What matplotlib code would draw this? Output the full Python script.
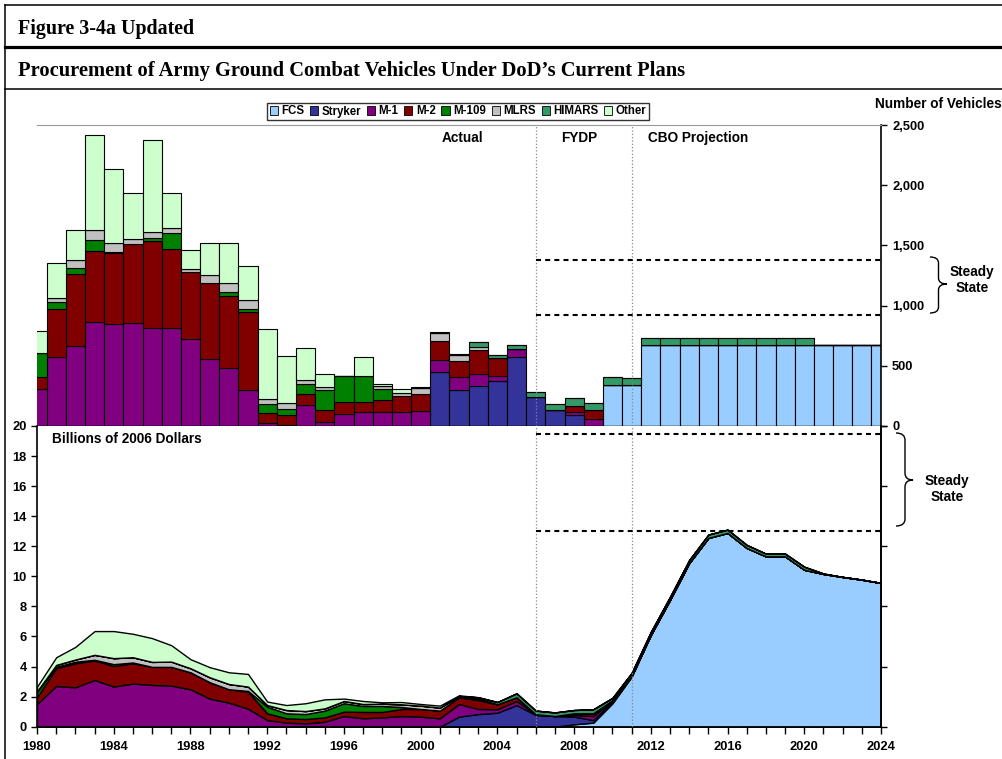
import matplotlib
matplotlib.use("Agg")
import matplotlib.pyplot as plt
import numpy as np
from matplotlib.patches import Patch, PathPatch
from matplotlib.path import Path
from matplotlib.ticker import FuncFormatter, MultipleLocator

# ---------------- data ----------------
years = list(range(1980, 2025))
series = ["FCS", "Stryker", "M-1", "M-2", "M-109", "MLRS", "HIMARS", "Other"]
colors = ["#99CCFF", "#333399", "#800080", "#800000", "#008000", "#C0C0C0", "#339966", "#CCFFCC"]

def pad(d):
    return [d.get(y, 0) for y in years]

# Number of vehicles
veh_fcs = pad({2010: 341, 2011: 341, **{y: 675 for y in range(2012, 2025)}})
veh_stryker = pad({2001: 446, 2002: 299, 2003: 332, 2004: 371, 2005: 576, 2006: 241, 2007: 133, 2008: 91})
veh_m1 = pad({1980: 307, 1981: 570, 1982: 667, 1983: 861, 1984: 845, 1985: 853, 1986: 811, 1987: 811,
              1988: 723, 1989: 553, 1990: 484, 1991: 299, 1992: 22, 1993: 5, 1994: 172, 1995: 33,
              1996: 102, 1997: 114, 1998: 114, 1999: 114, 2000: 127, 2001: 102, 2002: 108, 2003: 97,
              2004: 42, 2005: 61, 2008: 25, 2009: 55})
veh_m2 = pad({1980: 100, 1981: 399, 1982: 595, 1983: 595, 1984: 595, 1985: 659, 1986: 723, 1987: 657,
              1988: 553, 1989: 638, 1990: 593, 1991: 651, 1992: 89, 1993: 85, 1994: 91, 1995: 100,
              1996: 100, 1997: 88, 1998: 102, 1999: 135, 2000: 139, 2001: 161, 2002: 136, 2003: 202,
              2004: 149, 2008: 50, 2009: 78})
veh_m109 = pad({1980: 196, 1981: 58, 1982: 48, 1983: 89, 1984: 5, 1986: 30, 1987: 132, 1990: 39,
                1991: 25, 1992: 75, 1993: 55, 1994: 83, 1995: 166, 1996: 213, 1997: 213, 1998: 91})
veh_mlrs = pad({1981: 34, 1982: 69, 1983: 80, 1984: 77, 1985: 44, 1986: 45, 1987: 47, 1988: 25,
                1989: 63, 1990: 69, 1991: 69, 1992: 41, 1993: 50, 1994: 36, 1995: 28, 1998: 28,
                1999: 28, 2000: 47, 2001: 61, 2002: 47, 2003: 28})
veh_himars = pad({2003: 36, 2004: 28, 2005: 38, 2006: 39, 2007: 47, 2008: 64, 2009: 55, 2010: 63,
                  2011: 55, **{y: 53 for y in range(2012, 2021)}})
veh_other = pad({1980: 189, 1981: 290, 1982: 246, 1983: 792, 1984: 612, 1985: 382, 1986: 764,
                 1987: 291, 1988: 161, 1989: 269, 1990: 338, 1991: 282, 1992: 579, 1993: 390,
                 1994: 263, 1995: 105, 1997: 155, 1998: 10, 1999: 33, 2000: 14, 2001: 11, 2002: 5})

# Billions of 2006 dollars
cost_fcs = pad({2008: 0.16, 2009: 0.27, 2010: 1.56, 2011: 3.33, 2012: 6.11, 2013: 8.44, 2014: 10.89,
                2015: 12.56, 2016: 12.89, 2017: 11.89, 2018: 11.33, 2019: 11.33, 2020: 10.44,
                2021: 10.16, 2022: 9.96, 2023: 9.78, 2024: 9.56})
cost_stryker = pad({2002: 0.67, 2003: 0.84, 2004: 0.93, 2005: 1.44, 2006: 0.78, 2007: 0.71,
                    2008: 0.51, 2009: 0.17, 2010: 0.15, 2011: 0.05})
cost_m1 = pad({1980: 1.51, 1981: 2.71, 1982: 2.62, 1983: 3.11, 1984: 2.67, 1985: 2.87, 1986: 2.78,
               1987: 2.73, 1988: 2.49, 1989: 1.87, 1990: 1.60, 1991: 1.20, 1992: 0.44, 1993: 0.27,
               1994: 0.22, 1995: 0.33, 1996: 0.71, 1997: 0.56, 1998: 0.62, 1999: 0.71, 2000: 0.67,
               2001: 0.56, 2002: 0.84, 2003: 0.34, 2004: 0.23, 2005: 0.27, 2006: 0.05, 2008: 0.11,
               2009: 0.27, 2010: 0.03})
cost_m2 = pad({1980: 0.45, 1981: 1.18, 1982: 1.60, 1983: 1.29, 1984: 1.37, 1985: 1.35, 1986: 1.20,
               1987: 1.25, 1988: 1.13, 1989: 1.09, 1990: 0.89, 1991: 1.13, 1992: 0.45, 1993: 0.29,
               1994: 0.29, 1995: 0.29, 1996: 0.29, 1997: 0.42, 1998: 0.36, 1999: 0.47, 2000: 0.51,
               2001: 0.51, 2002: 0.45, 2003: 0.60, 2004: 0.33, 2005: 0.25, 2008: 0.11, 2009: 0.18,
               2010: 0.03})
cost_m109 = pad({1980: 0.35, 1981: 0.10, 1982: 0.10, 1983: 0.05, 1984: 0.12, 1985: 0.05, 1991: 0.05,
                 1992: 0.44, 1993: 0.33, 1994: 0.33, 1995: 0.45, 1996: 0.56, 1997: 0.40, 1998: 0.40,
                 1999: 0.13})
cost_mlrs = pad({1980: 0.05, 1981: 0.12, 1982: 0.15, 1983: 0.33, 1984: 0.40, 1985: 0.35, 1986: 0.33,
                 1987: 0.35, 1988: 0.27, 1989: 0.33, 1990: 0.35, 1991: 0.29, 1992: 0.11, 1993: 0.22,
                 1994: 0.20, 1995: 0.15, 1996: 0.15, 1997: 0.13, 1998: 0.15, 1999: 0.18, 2000: 0.22,
                 2001: 0.20, 2002: 0.08, 2003: 0.09})
cost_himars = pad({2003: 0.09, 2004: 0.15, 2005: 0.26, 2006: 0.24, 2007: 0.24, 2008: 0.22, 2009: 0.27,
                   2010: 0.15, 2011: 0.20, 2012: 0.20, 2013: 0.20, 2014: 0.20, 2015: 0.22, 2016: 0.22,
                   2017: 0.20, 2018: 0.18, 2019: 0.18, 2020: 0.20, 2021: 0.03})
cost_other = pad({1980: 0.30, 1981: 0.51, 1982: 0.84, 1983: 1.58, 1984: 1.80, 1985: 1.56, 1986: 1.58,
                  1987: 1.09, 1988: 0.60, 1989: 0.67, 1990: 0.78, 1991: 0.84, 1992: 0.23, 1993: 0.33,
                  1994: 0.52, 1995: 0.60, 1996: 0.16, 1997: 0.20, 1998: 0.09, 1999: 0.15, 2000: 0.11,
                  2001: 0.13, 2002: 0.05})

vehicles = [veh_fcs, veh_stryker, veh_m1, veh_m2, veh_m109, veh_mlrs, veh_himars, veh_other]
costs = [cost_fcs, cost_stryker, cost_m1, cost_m2, cost_m109, cost_mlrs, cost_himars, cost_other]

period_lines = [2006, 2011]
steady_vehicles = [922, 1379]
steady_cost = [13.0, 19.5]

# ---------------- figure ----------------
plt.rcParams['font.family'] = ['Liberation Sans', 'DejaVu Sans']
plt.rcParams['font.weight'] = 'bold'
W, H = 1003, 759
fig = plt.figure(figsize=(W / 100, H / 100), dpi=100)
FS = 9.8      # annotation font size
TS = 9.3      # tick label size

def fx(x):
    return x / W

def fy(y):
    return 1 - y / H

ax_l, ax_r = 37, 881
ax1 = fig.add_axes([fx(ax_l), fy(426), fx(ax_r - ax_l), (426 - 125) / H])
ax2 = fig.add_axes([fx(ax_l), fy(726.7), fx(ax_r - ax_l), (726.7 - 426) / H])

# --- top: bars ---
x = np.array(years)
bottom = np.zeros(len(years))
for vals, c in zip(vehicles, colors):
    v = np.array(vals, dtype=float)
    ax1.bar(x, v, bottom=bottom, width=1.0, color=c, edgecolor='black', linewidth=0.8, zorder=2)
    bottom += v
ax1.set_xlim(1980, 2024)
ax1.set_ylim(0, 2500)
for yv in period_lines:
    ax1.axvline(yv, color='#888888', linestyle=':', linewidth=0.9, zorder=3)
ax1.hlines(steady_vehicles, 2006, 2024, colors='black', linestyles=(0, (2.4, 2.0)), linewidth=1.5, zorder=3)
ax1.spines['left'].set_visible(False)
ax1.spines['top'].set_color('#999999')
ax1.spines['right'].set_linewidth(1.2)
ax1.spines['bottom'].set_linewidth(1.0)
ax1.set_xticks([])
ax1.yaxis.set_ticks_position('right')
ax1.set_yticks(range(0, 2501, 500))
ax1.yaxis.set_major_formatter(FuncFormatter(lambda v, p: f"{int(v):,}"))
ax1.tick_params(axis='y', direction='out', length=4, width=1, labelsize=TS, pad=4)
for lab in ax1.get_yticklabels():
    lab.set_fontweight('bold')

# --- bottom: stacked area ---
ax2.stackplot(x, *[np.array(c_, dtype=float) for c_ in costs], colors=colors,
              edgecolor='black', linewidth=1.0, zorder=2)
ax2.set_xlim(1980, 2024)
ax2.set_ylim(0, 20)
for yv in period_lines:
    ax2.axvline(yv, color='#888888', linestyle=':', linewidth=0.9, zorder=3)
ax2.hlines(steady_cost, 2006, 2024, colors='black', linestyles=(0, (2.4, 2.0)), linewidth=1.5, zorder=3)
ax2.spines['top'].set_visible(False)
for s in ['left', 'right', 'bottom']:
    ax2.spines[s].set_linewidth(1.2)
ax2.set_yticks(range(0, 21, 2))
ax2.set_xticks(range(1980, 2025, 4))
ax2.xaxis.set_minor_locator(MultipleLocator(1))
ax2.tick_params(axis='x', which='both', direction='out', length=5, width=1, labelsize=TS, pad=5)
ax2.tick_params(axis='y', direction='out', length=4, width=1, labelsize=TS)
for lab in ax2.get_xticklabels() + ax2.get_yticklabels():
    lab.set_fontweight('bold')
twin = ax2.twinx()
twin.set_ylim(0, 20)
twin.set_yticks(range(0, 21, 4))
twin.tick_params(axis='y', direction='out', length=4, width=1, labelright=False)
for s in ['top', 'left', 'bottom']:
    twin.spines[s].set_visible(False)
twin.spines['right'].set_linewidth(1.2)

# --- legend ---
handles = [Patch(facecolor=c, edgecolor='black', linewidth=0.6) for c in colors]
leg = fig.legend(handles, series, loc='center', bbox_to_anchor=(fx(458), fy(111.5)), ncol=8,
                 frameon=True, fancybox=False, edgecolor='black',
                 handlelength=0.7, handleheight=0.7, handletextpad=0.3, columnspacing=0.5,
                 borderpad=0.25, prop={'weight': 'bold', 'size': 8.3})
leg.get_frame().set_linewidth(1.0)

# --- overlay for header / annotations ---
ov = fig.add_axes([0, 0, 1, 1], zorder=5)
ov.set_xlim(0, W)
ov.set_ylim(H, 0)
ov.axis('off')
ov.patch.set_alpha(0)
ov.plot([5, W], [4.5, 4.5], color='black', lw=1.1)
ov.plot([5, 5], [4.5, H], color='black', lw=1.1)
ov.plot([5, W], [47, 47], color='black', lw=2.3)
ov.plot([5, W], [89, 89], color='black', lw=1.1)

ov.text(18, 29, "Figure 3-4a Updated", family=['Liberation Serif'], weight='bold', fontsize=14.4,
        va='center', ha='left')
ov.text(18, 71, "Procurement of Army Ground Combat Vehicles Under DoD\u2019s Current Plans",
        family=['Liberation Serif'], weight='bold', fontsize=14.8, va='center', ha='left')

ov.text(875, 104, "Number of Vehicles", weight='bold', fontsize=FS, va='center', ha='left')
ov.text(462.5, 138, "Actual", weight='bold', fontsize=FS, va='center', ha='center')
ov.text(579, 138, "FYDP", weight='bold', fontsize=FS, va='center', ha='center')
ov.text(698, 138, "CBO Projection", weight='bold', fontsize=FS, va='center', ha='center')
ov.text(52, 439, "Billions of 2006 Dollars", weight='bold', fontsize=FS, va='center', ha='left')
ov.text(972, 280, "Steady\nState", weight='bold', fontsize=FS, va='center', ha='center', linespacing=1.1)
ov.text(947, 489, "Steady\nState", weight='bold', fontsize=FS, va='center', ha='center', linespacing=1.1)

def brace(x0, xv, xt, yt, ym, yb, r):
    verts = [(x0, yt), (xv, yt), (xv, yt + r), (xv, ym - r), (xv, ym), (xt, ym),
             (xv, ym), (xv, ym + r), (xv, yb - r), (xv, yb), (x0, yb)]
    codes = [Path.MOVETO, Path.CURVE3, Path.CURVE3, Path.LINETO, Path.CURVE3, Path.CURVE3,
             Path.CURVE3, Path.CURVE3, Path.LINETO, Path.CURVE3, Path.CURVE3]
    ov.add_patch(PathPatch(Path(verts, codes), facecolor='none', edgecolor='black', lw=1.0))

brace(930, 938.5, 947, 257, 284, 313, 6)
brace(896, 905, 913, 433, 480, 526, 7)

fig.savefig("out.png", dpi=100)
